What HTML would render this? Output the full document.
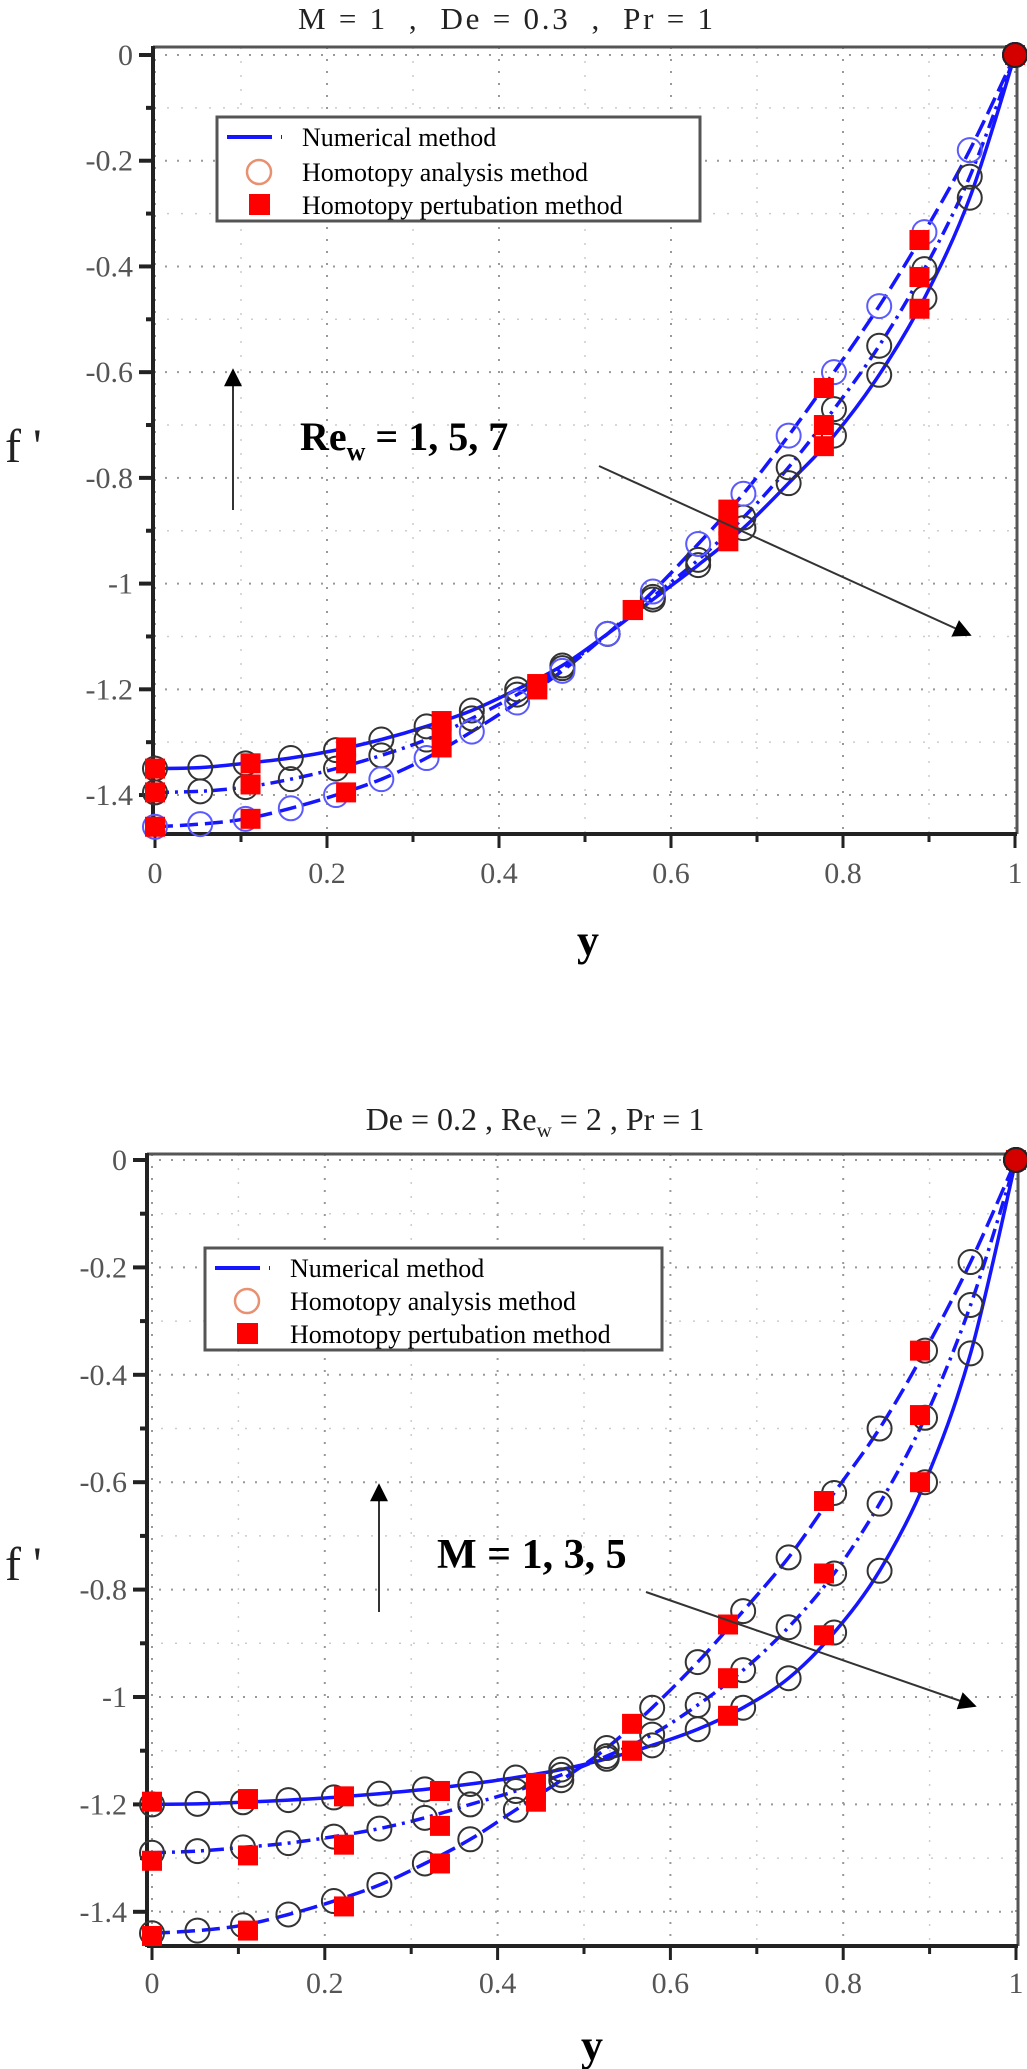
<!DOCTYPE html>
<html><head><meta charset="utf-8"><style>
html,body{margin:0;padding:0;background:#fff;}
svg{display:block;}
text{font-family:"Liberation Serif",serif;}
</style></head><body>
<svg id="fig" width="1027" height="2069" viewBox="0 0 1027 2069" xmlns="http://www.w3.org/2000/svg">
<defs>
<marker id="ah" viewBox="0 0 10 10" refX="9" refY="5" markerWidth="22" markerHeight="18" markerUnits="userSpaceOnUse" orient="auto"><path d="M0,0 L10,5 L0,10 z" fill="#000"/></marker>
</defs>
<g id="c1"></g>
<g id="c2"></g>
</svg>
<script>
// ---------- data ----------
const xTicks = [0,0.2,0.4,0.6,0.8,1];
const xTickLabels = ["0","0.2","0.4","0.6","0.8","1"];
const yTicks = [0,-0.2,-0.4,-0.6,-0.8,-1,-1.2,-1.4];
const yTickLabels = ["0","-0.2","-0.4","-0.6","-0.8","-1","-1.2","-1.4"];
const hamX = [0,0.0526,0.1053,0.1579,0.2105,0.2632,0.3158,0.3684,0.4211,0.4737,0.5263,0.5789,0.6316,0.6842,0.7368,0.7895,0.8421,0.8947,0.9474,1];
const hpmX = [0,0.1111,0.2222,0.3333,0.4444,0.5556,0.6667,0.7778,0.8889,1];
// chart 1: Re_w = 1,5,7
const rew1Ham = [-1.35,-1.348,-1.34,-1.33,-1.315,-1.295,-1.27,-1.24,-1.2,-1.155,-1.095,-1.03,-0.965,-0.895,-0.81,-0.72,-0.605,-0.46,-0.27,0];
const rew5Ham = [-1.395,-1.393,-1.385,-1.37,-1.35,-1.325,-1.295,-1.255,-1.21,-1.16,-1.095,-1.025,-0.955,-0.875,-0.78,-0.67,-0.55,-0.405,-0.23,0];
const rew7Ham = [-1.46,-1.455,-1.445,-1.425,-1.4,-1.37,-1.33,-1.28,-1.225,-1.165,-1.095,-1.015,-0.925,-0.83,-0.72,-0.6,-0.475,-0.335,-0.18,0];
const rew1Hpm = [-1.35,-1.34,-1.31,-1.26,-1.19,-1.05,-0.92,-0.74,-0.48,0];
const rew5Hpm = [-1.395,-1.38,-1.34,-1.28,-1.2,-1.05,-0.89,-0.70,-0.42,0];
const rew7Hpm = [-1.46,-1.445,-1.395,-1.31,-1.2,-1.05,-0.86,-0.63,-0.35,0];
// chart 2: M = 1,3,5
const m5Ham = [-1.2,-1.199,-1.196,-1.192,-1.187,-1.18,-1.172,-1.162,-1.15,-1.135,-1.115,-1.09,-1.06,-1.02,-0.965,-0.88,-0.765,-0.6,-0.36,0];
const m3Ham = [-1.29,-1.287,-1.28,-1.272,-1.26,-1.245,-1.225,-1.2,-1.175,-1.145,-1.11,-1.07,-1.015,-0.95,-0.87,-0.77,-0.64,-0.48,-0.27,0];
const m1Ham = [-1.44,-1.435,-1.425,-1.405,-1.38,-1.35,-1.31,-1.265,-1.21,-1.155,-1.095,-1.02,-0.935,-0.84,-0.74,-0.62,-0.5,-0.355,-0.19,0];
const m5Hpm = [-1.195,-1.19,-1.185,-1.175,-1.16,-1.1,-1.035,-0.885,-0.6,0];
const m3Hpm = [-1.305,-1.295,-1.275,-1.24,-1.175,-1.1,-0.965,-0.77,-0.475,0];
const m1Hpm = [-1.445,-1.435,-1.39,-1.31,-1.195,-1.05,-0.865,-0.635,-0.355,0];

const NS="http://www.w3.org/2000/svg";
function mk(parent,tag,attrs,txt){const e=document.createElementNS(NS,tag);for(const k in attrs)e.setAttribute(k,attrs[k]);if(txt!==undefined)e.textContent=txt;parent.appendChild(e);return e;}

function smoothPath(pts){
  let d="M"+pts[0][0].toFixed(1)+","+pts[0][1].toFixed(1);
  for(let i=0;i<pts.length-1;i++){
    const p0=pts[Math.max(0,i-1)],p1=pts[i],p2=pts[i+1],p3=pts[Math.min(pts.length-1,i+2)];
    const c1x=p1[0]+(p2[0]-p0[0])/6,c1y=p1[1]+(p2[1]-p0[1])/6,c2x=p2[0]-(p3[0]-p1[0])/6,c2y=p2[1]-(p3[1]-p1[1])/6;
    d+=" C"+c1x.toFixed(1)+","+c1y.toFixed(1)+" "+c2x.toFixed(1)+","+c2y.toFixed(1)+" "+p2[0].toFixed(1)+","+p2[1].toFixed(1);
  }
  return d;
}

function chart(g,cfg){
  const X=v=>cfg.x0+v*(cfg.x1-cfg.x0);
  const Y=v=>cfg.y0+(-v)*cfg.yPer;
  const L=cfg.left,R=cfg.right,T=cfg.top,B=cfg.bottom;
  const grid=mk(g,"g",{});
  
  
  for(let i=0;i<=10;i++){const v=i/10;const x=X(v);
    mk(grid,"line",{x1:x,y1:T,x2:x,y2:B,stroke:i%2?"#ccc":"#999","stroke-width":i%2?1.5:2,"stroke-dasharray":i%2?"2,12":"2,10"});}
  for(let i=0;i<=15;i++){const v=-i/10;const y=Y(v);if(y>B)continue;
    mk(grid,"line",{x1:L,y1:y,x2:R,y2:y,stroke:i%2?"#ccc":"#999","stroke-width":i%2?1.5:2,"stroke-dasharray":i%2?"2,12":"2,10"});}
  mk(g,"line",{x1:L,y1:T,x2:R,y2:T,stroke:"#555","stroke-width":3});
  mk(g,"line",{x1:R,y1:T,x2:R,y2:B,stroke:"#555","stroke-width":3});
  mk(g,"line",{x1:L,y1:T-1,x2:L,y2:B+1,stroke:"#222","stroke-width":4});
  mk(g,"line",{x1:L,y1:B,x2:R,y2:B,stroke:"#222","stroke-width":4});
  for(let i=0;i<=10;i++){const x=X(i/10);mk(g,"line",{x1:x,y1:B,x2:x,y2:B+(i%2?8:14),stroke:"#222","stroke-width":3});}
  xTicks.forEach((v,i)=>{const t=mk(g,"text",{x:X(v),y:cfg.xLabY,"text-anchor":"middle","font-size":30,fill:"#555"},xTickLabels[i]);
    
    });
  for(let i=0;i<=15;i++){const y=Y(-i/10);if(y>B)continue;mk(g,"line",{x1:L-(i%2?7:14),y1:y,x2:L,y2:y,stroke:"#222","stroke-width":4});}
  yTicks.forEach((v,i)=>{const t=mk(g,"text",{x:L-20,y:Y(v)+10,"text-anchor":"end","font-size":30,fill:"#555"},yTickLabels[i]);
    
    });
  cfg.series.forEach(s=>{
    const pts=hamX.map((xv,i)=>[X(xv),Y(s.ham[i])]);
    const p=mk(g,"path",{d:smoothPath(pts),fill:"none",stroke:"#1515ff","stroke-width":3.5,"stroke-dasharray":s.dash});
    
    
  });
  cfg.series.forEach(s=>{
    hamX.forEach((xv,i)=>{const c=mk(g,"circle",{cx:X(xv),cy:Y(s.ham[i]),r:12,fill:"none",stroke:s.circ,"stroke-width":2});
      
      });
  });
  cfg.series.forEach(s=>{
    hpmX.forEach((xv,i)=>{const r=mk(g,"rect",{x:X(xv)-10,y:Y(s.hpm[i])-10,width:20,height:20,fill:"#ff0000"});
      
      });
  });
  mk(g,"circle",{cx:X(1),cy:Y(0),r:12,fill:"#d40000",stroke:"#222","stroke-width":2});
  const lg=mk(g,"g",{});
  
  
  const l=cfg.legend;
  mk(lg,"rect",{x:l.x,y:l.y,width:l.w,height:l.h,fill:"#fff",stroke:"#555","stroke-width":3});
  const fs=l.fs;
  mk(lg,"line",{x1:l.x+10,y1:l.y+l.rows[0],x2:l.x+65,y2:l.y+l.rows[0],stroke:"#1515ff","stroke-width":4,"stroke-dasharray":"45,9,6,30"});
  mk(lg,"circle",{cx:l.x+42,cy:l.y+l.rows[1],r:12,fill:"none",stroke:"#e89070","stroke-width":2.5});
  mk(lg,"rect",{x:l.x+32,y:l.y+l.rows[2]-11,width:21,height:21,fill:"#ff0000"});
  const names=["Numerical method","Homotopy analysis method","Homotopy pertubation method"];
  names.forEach((n,i)=>{const t=mk(lg,"text",{x:l.x+l.tx,y:l.y+l.rows[i]+9,"font-size":fs,fill:"#000"},n);
    
    });
}

chart(document.getElementById("c1"),{
  x0:155,x1:1015,y0:55,yPer:528.6,left:153,right:1017,top:47,bottom:834,xLabY:883,
  legend:{x:217,y:117,w:483,h:104,rows:[20,55,88],tx:85,fs:26},
  series:[
    {name:"rew-1",ham:rew1Ham,hpm:rew1Hpm,dash:"none",circ:"#333"},
    {name:"rew-5",ham:rew5Ham,hpm:rew5Hpm,dash:"14,6,3,6",circ:"#333"},
    {name:"rew-7",ham:rew7Ham,hpm:rew7Hpm,dash:"18,7",circ:"#5a5aff"}
  ]
});
chart(document.getElementById("c2"),{
  x0:152,x1:1016,y0:1160,yPer:537,left:147,right:1018,top:1154,bottom:1946,xLabY:1993,
  legend:{x:205,y:1248,w:457,h:102,rows:[20,53,86],tx:85,fs:26},
  series:[
    {name:"m-5",ham:m5Ham,hpm:m5Hpm,dash:"none",circ:"#333"},
    {name:"m-3",ham:m3Ham,hpm:m3Hpm,dash:"14,6,3,6",circ:"#333"},
    {name:"m-1",ham:m1Ham,hpm:m1Hpm,dash:"18,7",circ:"#333"}
  ]
});
</script>
<script>
const svg=document.getElementById("fig");
const ann=document.createElementNS(NS,"g");svg.appendChild(ann);
ann.innerHTML=`
<text x="298" y="29" font-size="31" fill="#222" xml:space="preserve" textLength="415" lengthAdjust="spacing">M = 1  ,  De = 0.3  ,  Pr = 1</text>
<text x="5" y="462" font-size="48" fill="#222">f '</text>
<text x="588" y="955" text-anchor="middle" font-size="44" font-weight="bold" fill="#000">y</text>
<line x1="233" y1="510" x2="233" y2="370" stroke="#333" stroke-width="2" marker-end="url(#ah)"/>
<text x="300" y="450" font-size="40" font-weight="bold" fill="#000">Re<tspan font-size="26" dy="10">w</tspan><tspan dy="-10"> = 1, 5, 7</tspan></text>
<line x1="599" y1="466" x2="970" y2="635" stroke="#333" stroke-width="2" marker-end="url(#ah)"/>
<text x="535" y="1130" text-anchor="middle" font-size="32" fill="#222">De = 0.2 ,  Re<tspan font-size="21" dy="7">w</tspan><tspan dy="-7"> = 2  ,  Pr = 1</tspan></text>
<text x="5" y="1580" font-size="48" fill="#222">f '</text>
<text x="592" y="2060" text-anchor="middle" font-size="44" font-weight="bold" fill="#000">y</text>
<line x1="379" y1="1612" x2="379" y2="1485" stroke="#333" stroke-width="2" marker-end="url(#ah)"/>
<text x="437" y="1568" font-size="42" font-weight="bold" fill="#000">M = 1, 3, 5</text>
<line x1="646" y1="1592" x2="975" y2="1706" stroke="#333" stroke-width="2" marker-end="url(#ah)"/>
`;
</script>
</body></html>
